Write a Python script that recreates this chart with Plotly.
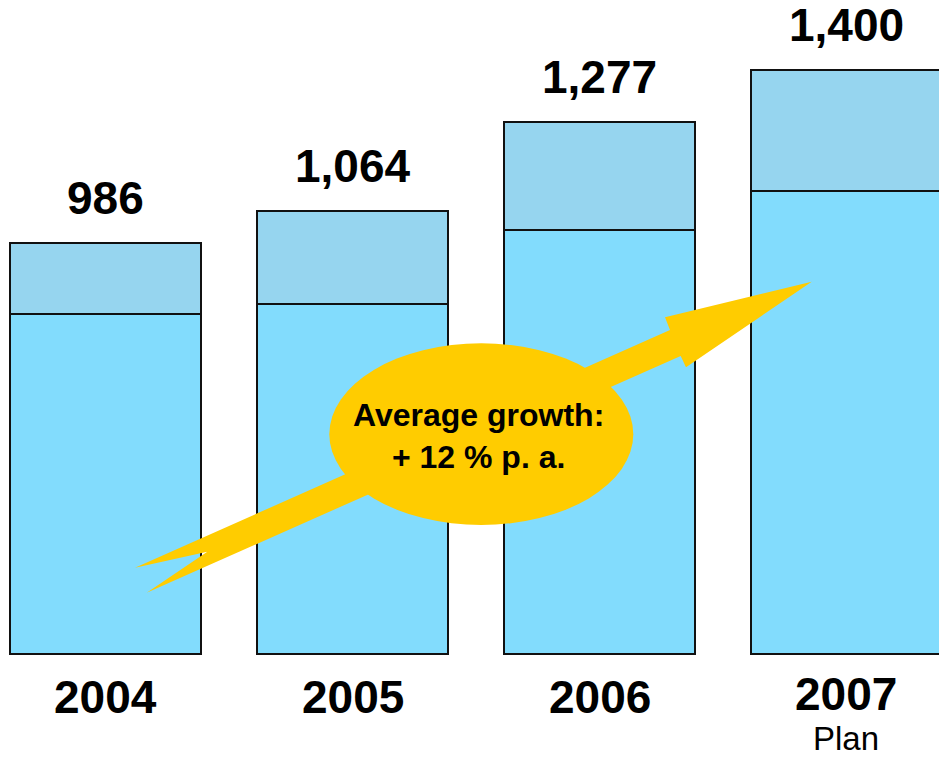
import plotly.graph_objects as go

# Data
years = ["2004", "2005", "2006", "2007"]
year_notes = ["", "", "", "Plan"]
base_part = [816, 840, 1017, 1110]
top_part = [170, 224, 260, 290]
totals = [986, 1064, 1277, 1400]
growth_text = "Average growth:<br>+ 12 % p. a."

W, H = 939, 758
FONT = "Arial, 'Liberation Sans', sans-serif"
LOW_COLOR = "#82DCFD"
HIGH_COLOR = "#96D5EF"
ARROW_COLOR = "#FFCC00"

fig = go.Figure()
fig.add_trace(go.Bar(x=years, y=base_part, width=0.775,
                     marker=dict(color=LOW_COLOR, line=dict(color="#111111", width=2)),
                     hoverinfo="skip"))
fig.add_trace(go.Bar(x=years, y=top_part, width=0.775,
                     marker=dict(color=HIGH_COLOR, line=dict(color="#111111", width=2)),
                     hoverinfo="skip"))


def px(x, y):
    """Pixel position on the page -> paper fractions."""
    return x / W, 1 - y / H


# Growth arrow with forked tail (pixel outline)
arrow_px = [(135, 567.7), (670, 330), (665, 317.3), (811.7, 281.7),
            (686, 367.3), (680.7, 356), (146.7, 592.7), (207.3, 551.7)]
pts = [px(x, y) for x, y in arrow_px]
path = "M " + " L ".join(f"{x:.5f} {y:.5f}" for x, y in pts) + " Z"

shapes = [
    dict(type="path", xref="paper", yref="paper", path=path,
         fillcolor=ARROW_COLOR, line=dict(width=0), layer="above"),
]
ex0, ey0 = px(329.3, 343.3)
ex1, ey1 = px(633.3, 525)
shapes.append(dict(type="circle", xref="paper", yref="paper",
                   x0=ex0, x1=ex1, y0=ey1, y1=ey0,
                   fillcolor=ARROW_COLOR, line=dict(width=0), layer="above"))

annotations = []
# Totals above the bars
for i, tot in enumerate(totals):
    annotations.append(dict(x=i, y=tot, xref="x", yref="y", text=f"<b>{tot:,}</b>",
                            showarrow=False, yanchor="bottom", yshift=17,
                            font=dict(family=FONT, size=46, color="#000000")))
# Year labels under the bars
for i, (yr, note) in enumerate(zip(years, year_notes)):
    annotations.append(dict(x=i, y=0, xref="x", yref="y", text=f"<b>{yr}</b>",
                            showarrow=False, yanchor="top", yshift=-15 if not note else -12,
                            font=dict(family=FONT, size=46, color="#000000")))
    if note:
        annotations.append(dict(x=i, y=0, xref="x", yref="y", text=note,
                                showarrow=False, yanchor="top", yshift=-64,
                                font=dict(family=FONT, size=33, color="#000000")))

tx, ty = px(478, 436)
annotations.append(dict(x=tx, y=ty, xref="paper", yref="paper", text=f"<b>{growth_text}</b>",
                        showarrow=False, xanchor="center", yanchor="middle", align="center",
                        font=dict(family=FONT, size=32, color="#000000")))

fig.update_layout(
    width=W, height=H,
    margin=dict(l=0, r=0, t=0, b=0),
    paper_bgcolor="white", plot_bgcolor="white",
    barmode="stack", bargap=0, showlegend=False,
    xaxis=dict(type="category", range=[-0.428, 3.375], showticklabels=False, showgrid=False,
               zeroline=False, showline=False, fixedrange=True),
    yaxis=dict(range=[-249.5, 1569.1], showticklabels=False, showgrid=False,
               zeroline=False, showline=False, fixedrange=True),
    shapes=shapes,
    annotations=annotations,
)

fig.write_html("out.html")
